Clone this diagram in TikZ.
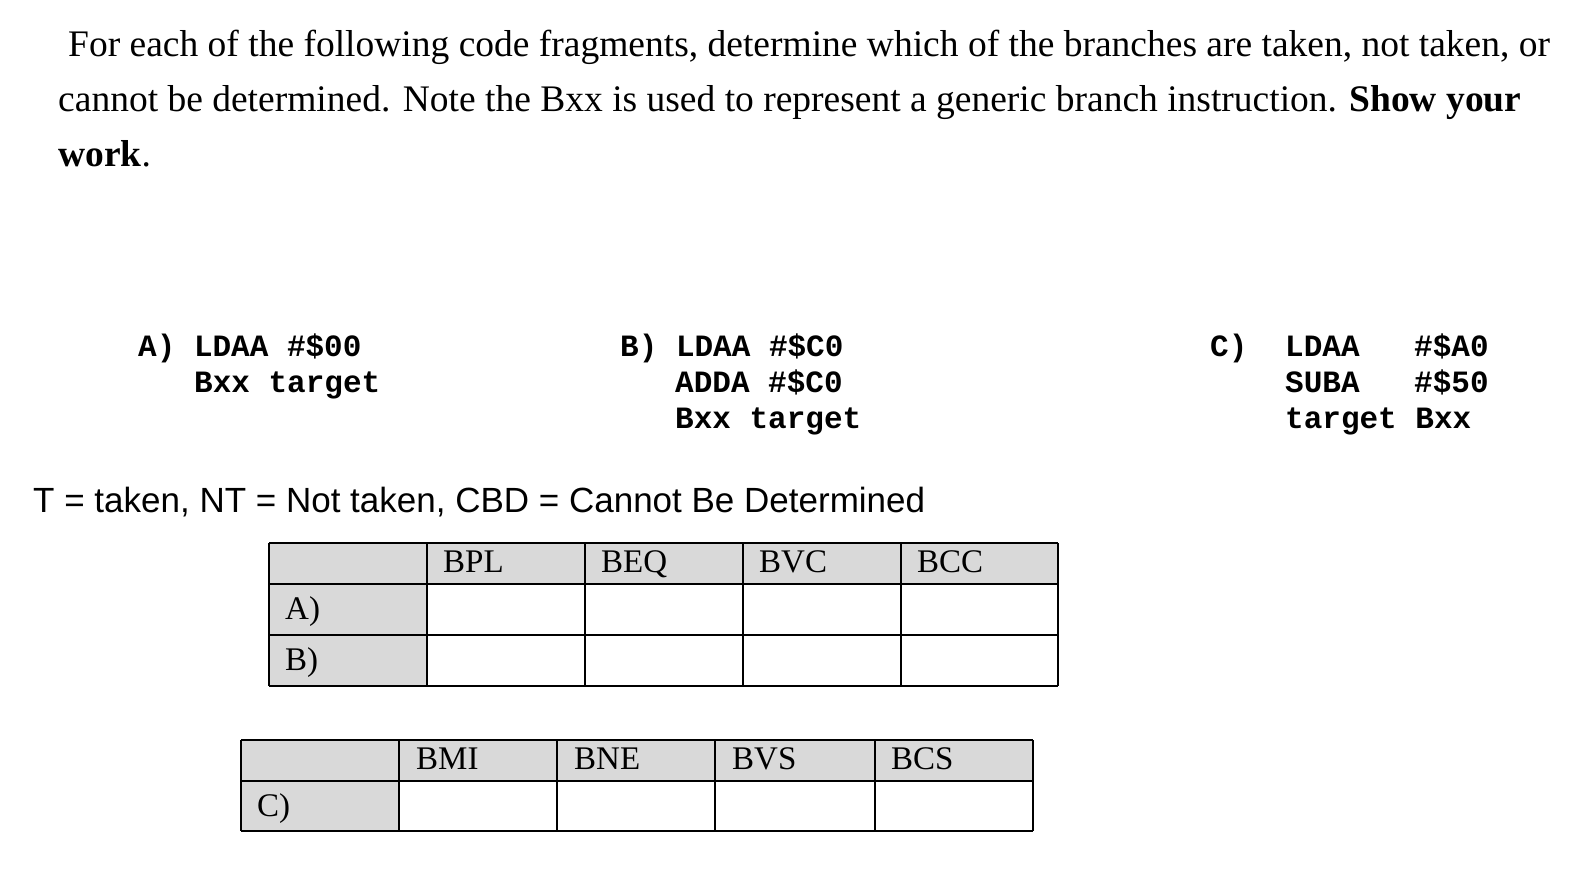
\documentclass[tikz,border=0pt]{standalone}
\usepackage{fontspec}
\setmainfont{Liberation Serif}
\newfontfamily\monof{Liberation Mono}
\newfontfamily\sansf{Liberation Sans}
\definecolor{cellgray}{HTML}{D9D9D9}
\begin{document}
\begin{tikzpicture}[x=1pt,y=-1pt,
  para/.style={anchor=base west,inner sep=0,font=\fontsize{37.5}{37.5}\selectfont},
  code/.style={anchor=base west,inner sep=0,font=\monof\bfseries\fontsize{31}{31}\selectfont},
  cell/.style={anchor=base west,inner sep=0,font=\fontsize{33}{33}\selectfont},
  grid/.style={draw=black,line width=1.5pt}]
\useasboundingbox (0,0) rectangle (1587,876);
\node[para] (p1) at (68,56) {For each of the following code fragments, determine which of the branches are taken, not taken, or};
\node[para] (p2) at (58,111) {cannot be determined. Note the Bxx is used to represent a generic branch instruction. \textbf{Show your}};
\node[para] (p3) at (58,166) {\textbf{work}.};
\node[code] (a1) at (138,356) {A) LDAA \#\$00};
\node[code] (a2) at (194,392) {Bxx target};
\node[code] (b1) at (620,356) {B) LDAA \#\$C0};
\node[code] (b2) at (675,392) {ADDA \#\$C0};
\node[code] (b3) at (675,428) {Bxx target};
\node[code] (c0) at (1210,356) {C)};
\node[code] (c1) at (1285,356) {LDAA};
\node[code] (c1b) at (1414,356) {\#\$A0};
\node[code] (c2) at (1285,392) {SUBA};
\node[code] (c2b) at (1414,392) {\#\$50};
\node[code] (c3) at (1285,428) {target Bxx};
\node[anchor=base west,inner sep=0,font=\sansf\fontsize{35}{35}\selectfont] (leg) at (33,512) {T = taken, NT = Not taken, CBD = Cannot Be Determined};
% table 1
\fill[cellgray] (269,543) rectangle (1058,584);
\fill[cellgray] (269,584) rectangle (427,686);
\foreach \x in {269,427,585,743,901,1058} \draw[grid] (\x,543) -- (\x,686);
\foreach \y in {543,584,635,686} \draw[grid] (269,\y) -- (1058,\y);
\node[cell] (h1) at (443,572) {BPL};
\node[cell] (h2) at (601,572) {BEQ};
\node[cell] (h3) at (759,572) {BVC};
\node[cell] (h4) at (917,572) {BCC};
\node[cell] (rA) at (285,619) {A)};
\node[cell] (rB) at (285,670) {B)};
% table 2
\fill[cellgray] (241,740) rectangle (1033,781);
\fill[cellgray] (241,781) rectangle (399,831);
\foreach \x in {241,399,557,715,875,1033} \draw[grid] (\x,740) -- (\x,831);
\foreach \y in {740,781,831} \draw[grid] (241,\y) -- (1033,\y);
\node[cell] (g1) at (416,769) {BMI};
\node[cell] (g2) at (574,769) {BNE};
\node[cell] (g3) at (732,769) {BVS};
\node[cell] (g4) at (891,769) {BCS};
\node[cell] (rC) at (257,816) {C)};
\end{tikzpicture}
\end{document}
